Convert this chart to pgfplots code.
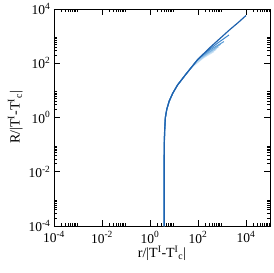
\documentclass[border=0pt]{standalone}
\usepackage{pgfplots}
\pgfplotsset{compat=1.18}
\usepackage{fontspec}
\setmainfont{Liberation Serif}
\definecolor{c1}{HTML}{1F62AE}
\definecolor{c2}{HTML}{3D86CC}
\definecolor{c3}{HTML}{5A9BD5}
\definecolor{c4}{HTML}{7AB2E0}
\definecolor{c5}{HTML}{9CC7EA}
\definecolor{c6}{HTML}{B8D7F0}
\definecolor{c7}{HTML}{D0E5F6}
\begin{document}
\begin{tikzpicture}
\begin{axis}[
  at={(0pt,0pt)}, anchor=south west,
  scale only axis,
  width=216pt, height=217pt,
  xmode=log, ymode=log,
  xmin=1e-4, xmax=1e5, ymin=1e-4, ymax=1e4,
  axis line style={line width=0.9pt},
  tick style={black, line width=0.6pt},
  major tick length=6pt, minor tick length=3.5pt,
  tick align=inside,
  xtick={1e-4,1e-2,1,1e2,1e4},
  xticklabels={10\textsuperscript{-4},10\textsuperscript{-2},10\textsuperscript{0},10\textsuperscript{2},10\textsuperscript{4}},
  ytick={1e-4,1e-2,1,1e2,1e4},
  yticklabels={10\textsuperscript{-4},10\textsuperscript{-2},10\textsuperscript{0},10\textsuperscript{2},10\textsuperscript{4}},
  minor xtick={2e-4,3e-4,4e-4,5e-4,6e-4,7e-4,8e-4,9e-4,2e-2,3e-2,4e-2,5e-2,6e-2,7e-2,8e-2,9e-2,2,3,4,5,6,7,8,9,200,300,400,500,600,700,800,900,2e4,3e4,4e4,5e4,6e4,7e4,8e4,9e4},
  minor ytick={2e-4,3e-4,4e-4,5e-4,6e-4,7e-4,8e-4,9e-4,2e-2,3e-2,4e-2,5e-2,6e-2,7e-2,8e-2,9e-2,2,3,4,5,6,7,8,9,200,300,400,500,600,700,800,900},
  ticklabel style={font=\fontsize{13.5}{13.5}\selectfont},
  xticklabel style={yshift=-2pt},
  yticklabel style={xshift=0pt},
  xlabel={r/|T\textsuperscript{I}-T\textsuperscript{I}\textsubscript{c}|},
  ylabel={R/|T\textsuperscript{I}-T\textsuperscript{I}\textsubscript{c}|},
  label style={font=\fontsize{14}{14}\selectfont},
  xlabel style={yshift=4pt},
  ylabel style={yshift=-1pt},
]
\addplot[c7, line width=1pt] coordinates {(3.9,1e-4)(3.9,1e-2)(3.94,0.1)(4.07,0.316)(4.37,1)(5.0,2.0)(6.3,4)(8.9,7.9)(14.1,15.8)(31.6,39.8)(50.1,64.6)(158.5,152)(468,270)};
\addplot[c6, line width=1pt] coordinates {(3.9,1e-4)(3.9,1e-2)(3.94,0.1)(4.07,0.316)(4.37,1)(5.0,2.0)(6.3,4)(8.9,7.9)(14.1,15.8)(31.6,39.8)(63.1,83.2)(199.5,185)(575,325)};
\addplot[c5, line width=1pt] coordinates {(3.9,1e-4)(3.9,1e-2)(3.94,0.1)(4.07,0.316)(4.37,1)(5.0,2.0)(6.3,4)(8.9,7.9)(14.1,15.8)(31.6,39.8)(79.4,110)(251,225)(708,400)};
\addplot[c4, line width=1pt] coordinates {(3.9,1e-4)(3.9,1e-2)(3.94,0.1)(4.07,0.316)(4.37,1)(5.0,2.0)(6.3,4)(8.9,7.9)(14.1,15.8)(31.6,39.8)(100,141)(316,270)(871,500)};
\addplot[c3, line width=1pt] coordinates {(3.9,1e-4)(3.9,1e-2)(3.94,0.1)(4.07,0.316)(4.37,1)(5.0,2.0)(6.3,4)(8.9,7.9)(14.1,15.8)(31.6,39.8)(100,141)(125.9,170)(398,350)(1202,630)};
\addplot[c2, line width=1pt] coordinates {(3.9,1e-4)(3.9,1e-2)(3.94,0.1)(4.07,0.316)(4.37,1)(5.0,2.0)(6.3,4)(8.9,7.9)(14.1,15.8)(31.6,39.8)(100,141)(199.5,245)(631,540)(1950,1100)};
\addplot[c1, line width=1.2pt] coordinates {(3.9,1e-4)(3.9,1e-2)(3.94,0.1)(4.07,0.316)(4.37,1)(5.0,2.0)(6.3,4)(8.9,7.9)(14.1,15.8)(31.6,39.8)(100,141)(316,380)(1000,955)(1995,1660)(5012,3311)(10000,5754)};
\end{axis}
\pgfresetboundingbox
\path[use as bounding box] (-54pt,-47pt) rectangle (219pt,226pt);
\end{tikzpicture}
\end{document}
